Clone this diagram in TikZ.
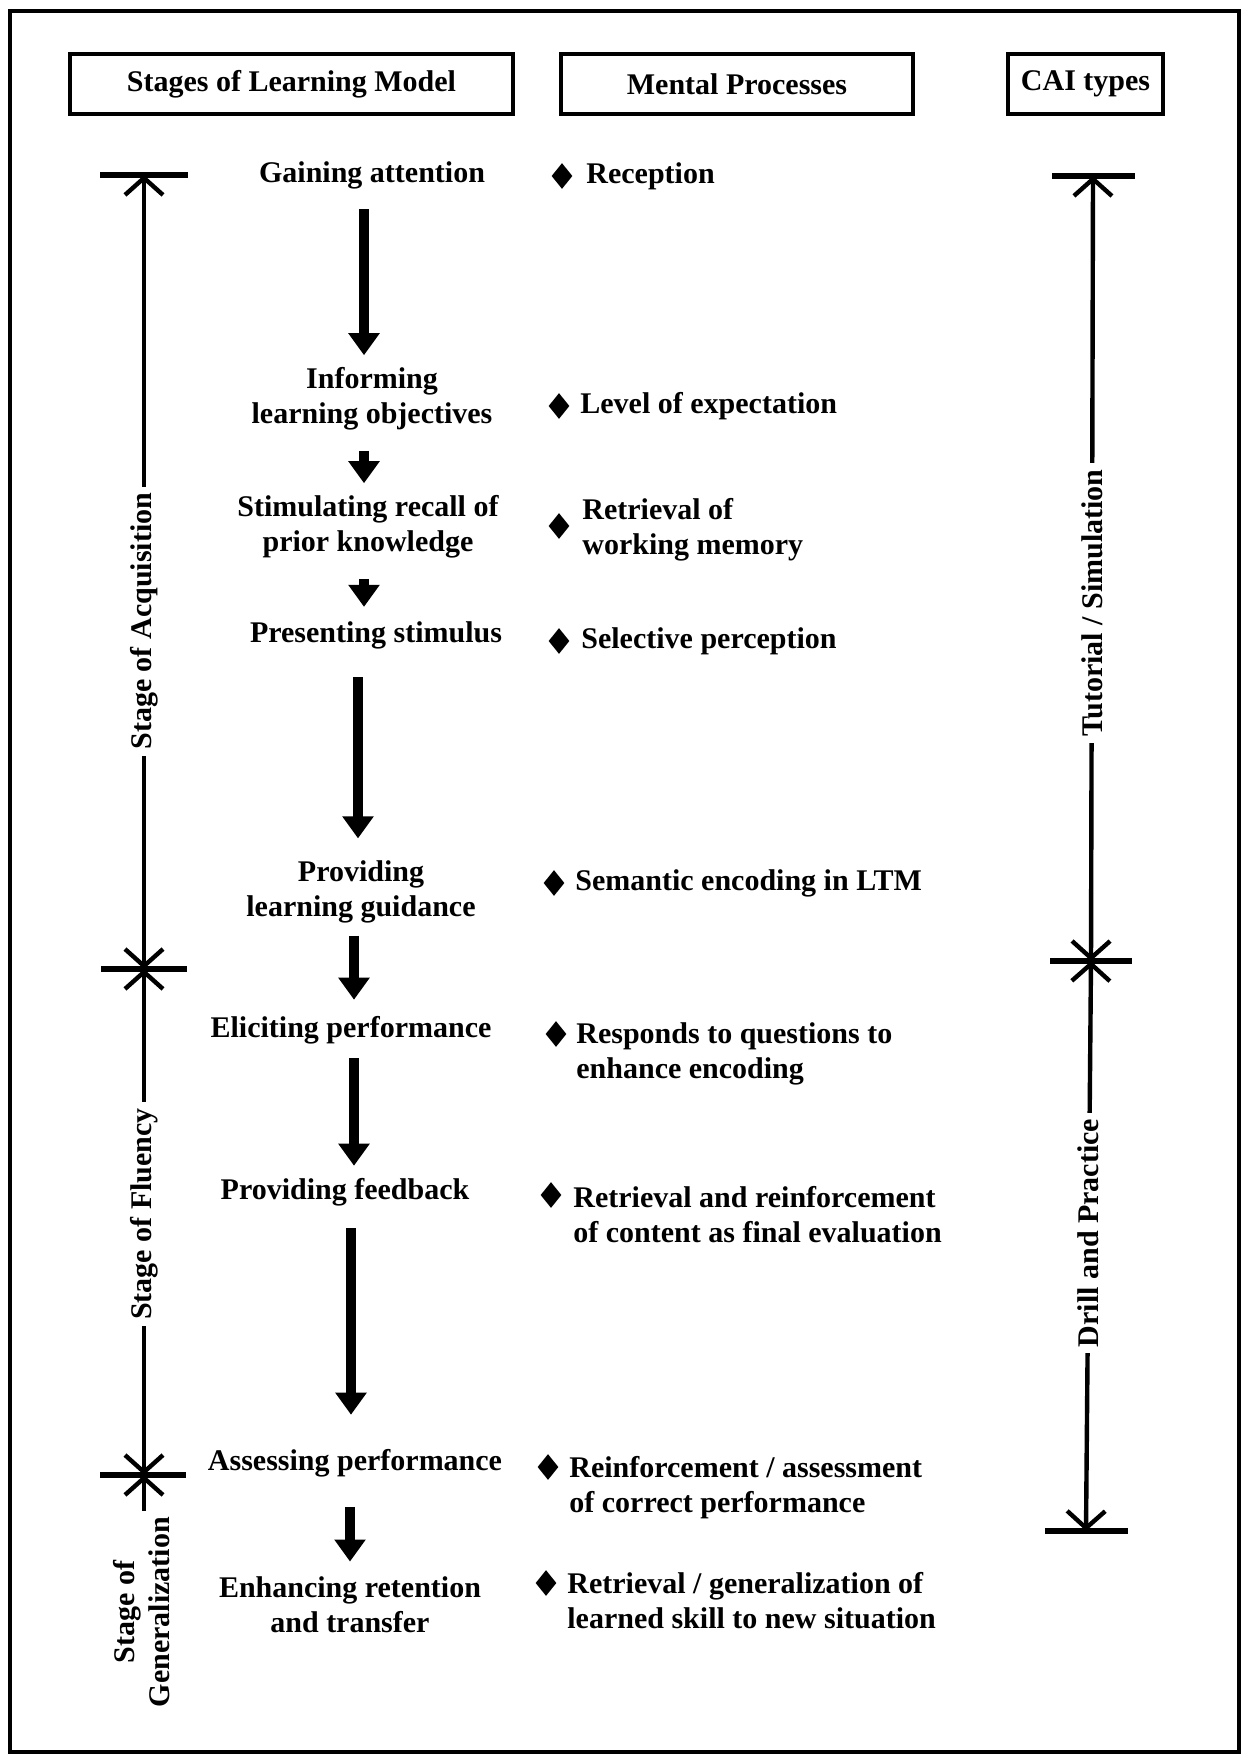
\documentclass[tikz,border=0pt]{standalone}
\usepackage{fontspec}
\setmainfont{Liberation Serif}
\usetikzlibrary{arrows.meta,shapes.geometric}

\tikzset{
  heading/.style={draw, line width=2pt, minimum height=30pt, inner sep=0pt},
  stage/.style={align=center, inner sep=0pt},
  mental/.style={align=left, anchor=west, inner sep=0pt},
  bullet/.style={diamond, fill=black, inner sep=0pt, minimum width=10.5pt, minimum height=13pt},
  flow/.style={line width=5pt, -{Triangle[width=15pt,length=11pt]}},
  barb/.tip={Straight Barb[width=19pt,length=8.5pt]},
  span/.style={line width=2.2pt, barb-barb},
  bar/.style={line width=3pt},
  phase/.style={fill=white, rotate=90, inner sep=3pt, align=center},
}

\begin{document}
\begin{tikzpicture}[x=0.5pt, y=-0.5pt, font=\fontsize{15}{17.5}\selectfont\bfseries]
  \useasboundingbox (0,0) rectangle (1248,1755);
  \draw[line width=2pt] (10,11) rectangle (1239,1752);

  % column headings
  \node[heading, minimum width=221.5pt] (hstage) at (291.5,84) {Stages of Learning Model};
  \node[heading, minimum width=176pt] (hmental) at (737,84) {Mental Processes};
  \node[heading, minimum width=77.5pt] (hcai) at (1085.5,84) {CAI types};

  % events of instruction
  \node[stage] (gain) at (372,175) {Gaining attention};
  \node[stage] (inform) at (372,399) {Informing\\learning objectives};
  \node[stage] (recall) at (368,527) {Stimulating recall of\\prior knowledge};
  \node[stage] (present) at (376,635) {Presenting stimulus};
  \node[stage] (guide) at (361,892) {Providing\\learning guidance};
  \node[stage] (elicit) at (351,1030) {Eliciting performance};
  \node[stage] (feedback) at (345,1192) {Providing feedback};
  \node[stage] (assess) at (355,1463) {Assessing performance};
  \node[stage] (retain) at (350,1605) {Enhancing retention\\and transfer};

  \draw[flow, shorten <=10pt, shorten >=6pt] ([xshift=-4pt]gain.south) -- ([xshift=-4pt]gain.south |- inform.north);
  \draw[flow, shorten <=10pt, shorten >=6pt] ([xshift=-4pt]inform.south) -- ([xshift=-4pt]inform.south |- recall.north);
  \draw[flow, shorten <=10pt, shorten >=7pt] ([xshift=-2pt]recall.south) -- ([xshift=-2pt]recall.south |- present.north);
  \draw[flow, shorten <=14pt, shorten >=11pt] ([xshift=-9pt]present.south) -- ([xshift=-9pt]present.south |- guide.north);
  \draw[flow, shorten <=6pt, shorten >=8pt] ([xshift=-3.5pt]guide.south) -- ([xshift=-3.5pt]guide.south |- elicit.north);
  \draw[flow, shorten <=7pt, shorten >=6pt] ([xshift=1.5pt]elicit.south) -- ([xshift=1.5pt]elicit.south |- feedback.north);
  \draw[flow, shorten <=11pt, shorten >=17pt] ([xshift=3pt]feedback.south) -- ([xshift=3pt]feedback.south |- assess.north);
  \draw[flow, shorten <=15pt, shorten >=7.5pt] ([xshift=-2.5pt]assess.south) -- ([xshift=-2.5pt]assess.south |- retain.north);

  % mental processes
  \node[bullet] (d1) at (562,176) {};
  \node[mental] (m1) at (586,176) {Reception};
  \node[bullet] (d2) at (559,406) {};
  \node[mental] (m2) at (580,406) {Level of expectation};
  \node[bullet] (d3) at (559,526) {};
  \node[mental] (m3) at (582,530) {Retrieval of\\working memory};
  \node[bullet] (d4) at (559,641) {};
  \node[mental] (m4) at (581,641) {Selective perception};
  \node[bullet] (d5) at (554,883) {};
  \node[mental] (m5) at (575,883) {Semantic encoding in LTM};
  \node[bullet] (d6) at (556,1034) {};
  \node[mental] (m6) at (576,1054) {Responds to questions to\\enhance encoding};
  \node[bullet] (d7) at (551,1195) {};
  \node[mental] (m7) at (573,1215) {Retrieval and reinforcement\\of content as final evaluation};
  \node[bullet] (d8) at (548,1467) {};
  \node[mental] (m8) at (569,1488) {Reinforcement / assessment\\of correct performance};
  \node[bullet] (d9) at (546,1583) {};
  \node[mental] (m9) at (567,1601) {Retrieval / generalization of\\learned skill to new situation};

  % stages of learning
  \coordinate (acqtop) at (144,175);
  \coordinate (fluent) at (144,969);
  \coordinate (general) at (144,1475);
  \coordinate (genend) at (144,1512);
  \draw[bar] ([xshift=-22pt]acqtop) -- ([xshift=22pt]acqtop);
  \draw[bar] ([xshift=-21.5pt]fluent) -- ([xshift=21.5pt]fluent);
  \draw[bar] ([xshift=-22pt]general) -- ([xshift=21pt]general);
  \draw[span] (acqtop) -- node[phase, pos=0.562] (acq) {Stage of Acquisition} (fluent);
  \draw[span] (fluent) -- node[phase, pos=0.484] (flu) {Stage of Fluency} (general);
  \draw[line width=2.2pt, barb-] (general) -- (genend);
  \node[phase] (gen) at (142,1612) {Stage of\\Generalization};

  % CAI types
  \coordinate (caitop) at (1093,176);
  \coordinate (caimid) at (1091,961);
  \coordinate (caibot) at (1086,1531);
  \draw[bar] ([xshift=-20.5pt]caitop) -- ([xshift=21pt]caitop);
  \draw[bar] ([xshift=-20.5pt]caimid) -- ([xshift=20.5pt]caimid);
  \draw[bar] ([xshift=-20.5pt]caibot) -- ([xshift=21pt]caibot);
  \draw[span] (caitop) -- node[phase, pos=0.544] (tut) {Tutorial / Simulation} (caimid);
  \draw[span] (caimid) -- node[phase, pos=0.477] (drill) {Drill and Practice} (caibot);
\end{tikzpicture}
\end{document}
